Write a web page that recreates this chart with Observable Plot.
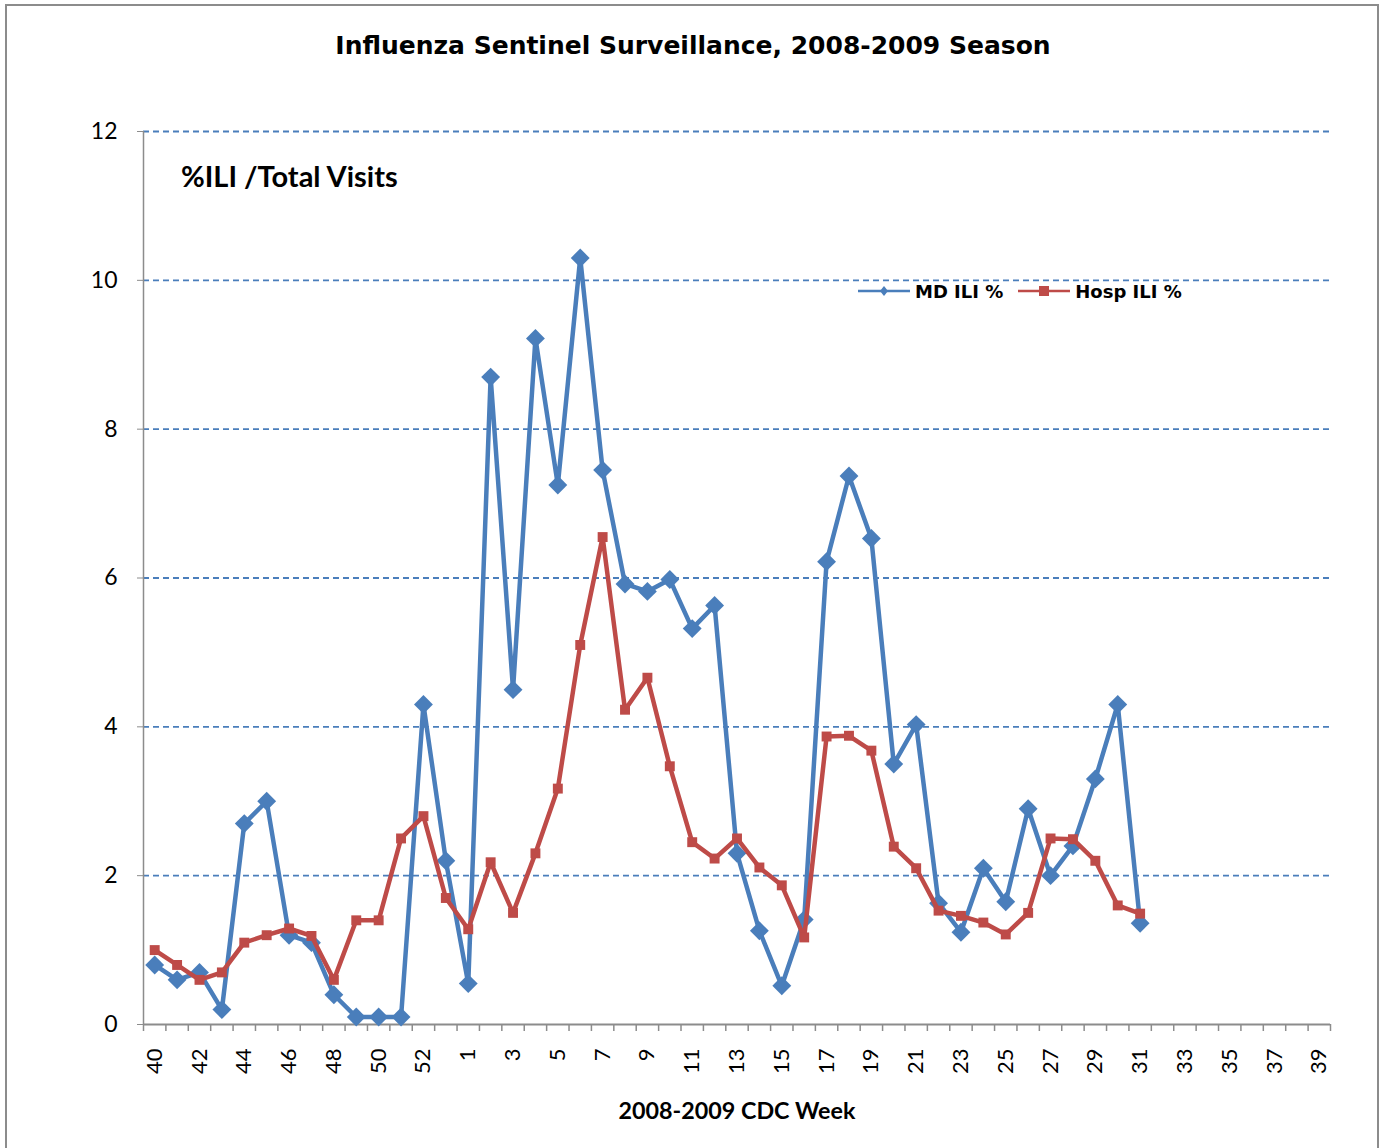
<!DOCTYPE html>
<html>
<head>
<meta charset="utf-8">
<script src="https://cdn.jsdelivr.net/npm/d3@7"></script>
<script src="https://cdn.jsdelivr.net/npm/@observablehq/plot@0.6"></script>
<style>
  body { margin: 0; background: #fff; }
  #wrap { position: relative; width: 1380px; height: 1148px; overflow: hidden; background: #fff; }
  #frame { position: absolute; left: 5px; top: 4px; width: 1370px; height: 1200px; border: 2.5px solid #8c8c8c; }
  #title { position: absolute; top: 31px; left: 0; width: 1386px; text-align: center; font: bold 25px "DejaVu Sans", sans-serif; color: #000; }
  #chart { position: absolute; top: 100px; left: 0; }
  #ytitle { position: absolute; left: 181px; top: 158px; font: bold 29px Lato, sans-serif; color: #000; }
  #xtitle { position: absolute; left: 0; width: 1474px; text-align: center; top: 1096px; font: bold 23.3px Lato, sans-serif; color: #000; }
  #legend { position: absolute; left: 858px; top: 279px; font: bold 18px "DejaVu Sans", sans-serif; color: #000; display: flex; align-items: center; }
  #legend .item { display: flex; align-items: center; margin-right: 15px; }
  #legend svg { margin-right: 5px; }
</style>
</head>
<body>
<div id="wrap">
  <div id="frame"></div>
  <div id="title">Influenza Sentinel Surveillance, 2008-2009 Season</div>
  <div id="chart"></div>
  <div id="ytitle">%ILI /Total Visits</div>
  <div id="xtitle">2008-2009 CDC Week</div>
  <div id="legend"></div>
</div>
<script>
// CDC weeks of the 2008-2009 season (2008 had 53 weeks)
const weeks = ["40","41","42","43","44","45","46","47","48","49","50","51","52","53",
  "1","2","3","4","5","6","7","8","9","10","11","12","13","14","15","16","17","18","19","20",
  "21","22","23","24","25","26","27","28","29","30","31","32","33","34","35","36","37","38","39"];

// MD ILI % (weeks 40 .. 31)
const mdILI = [0.8, 0.6, 0.7, 0.2, 2.7, 3.0, 1.2, 1.1, 0.4, 0.1, 0.1, 0.1, 4.3, 2.2,
  0.55, 8.7, 4.5, 9.22, 7.25, 10.3, 7.45, 5.92, 5.82, 5.98, 5.32, 5.63, 2.3, 1.26, 0.52, 1.41,
  6.22, 7.37, 6.53, 3.5, 4.03, 1.63, 1.24, 2.1, 1.65, 2.9, 2.0, 2.4, 3.3, 4.3, 1.36];

// Hosp ILI % (weeks 40 .. 31)
const hospILI = [1.0, 0.8, 0.6, 0.7, 1.1, 1.2, 1.29, 1.19, 0.6, 1.4, 1.4, 2.5, 2.8, 1.7,
  1.28, 2.18, 1.5, 2.3, 3.17, 5.1, 6.55, 4.23, 4.66, 3.47, 2.45, 2.23, 2.5, 2.11, 1.87, 1.17,
  3.87, 3.88, 3.68, 2.39, 2.1, 1.53, 1.46, 1.37, 1.21, 1.5, 2.5, 2.49, 2.2, 1.6, 1.49];

const yTicks = [0, 2, 4, 6, 8, 10, 12];
const xTickLabels = weeks.filter((d, i) => i % 2 === 0);

const seriesNames = ["MD ILI %", "Hosp ILI %"];
const seriesColors = ["#4a7ebb", "#be4b48"];

const md = mdILI.map((v, i) => ({week: weeks[i], value: v}));
const hosp = hospILI.map((v, i) => ({week: weeks[i], value: v}));

const W = 1380, H = 1048;
const mL = 143, mR = 50, mT = 31, mB = 124;
const step = (W - mL - mR) / weeks.length;

const plot = Plot.plot({
  width: W,
  height: H,
  marginLeft: mL,
  marginRight: mR,
  marginTop: mT,
  marginBottom: mB,
  style: {fontFamily: "Lato, sans-serif", fontSize: "22px", color: "#000", background: "transparent"},
  x: {type: "point", domain: weeks, padding: 0.5, round: false},
  y: {domain: [0, 12]},
  marks: [
    Plot.gridY(yTicks.filter(d => d > 0), {stroke: "#4a7ebb", strokeOpacity: 1, strokeWidth: 1.9, strokeDasharray: "6,4"}),
    // category boundary tick marks
    Plot.ruleX(weeks, {x: d => d, dx: -step / 2, y1: 0, y2: 0, insetBottom: -7, stroke: "#8c8c8c", strokeWidth: 1.5}),
    Plot.ruleX([weeks[weeks.length - 1]], {x: d => d, dx: step / 2, y1: 0, y2: 0, insetBottom: -7, stroke: "#8c8c8c", strokeWidth: 1.5}),
    // y axis line
    Plot.ruleX([weeks[0]], {x: d => d, dx: -step / 2, y1: 0, y2: 12, stroke: "#8c8c8c", strokeWidth: 1.5}),
    Plot.axisY({ticks: yTicks, tickSize: 6, tickPadding: 20, stroke: "#8c8c8c", fill: "#000", fontSize: 23, label: null}),
    Plot.axisX({ticks: xTickLabels, tickSize: 0, tickPadding: 24, tickRotate: -90, fontSize: 22, label: null, fill: "#000"}),
    // x axis line
    Plot.ruleY([0], {stroke: "#8c8c8c", strokeWidth: 2}),
    Plot.line(md, {x: "week", y: "value", stroke: seriesColors[0], strokeWidth: 4.5}),
    Plot.dot(md, {x: "week", y: "value", symbol: "diamond2", r: 8.5, fill: seriesColors[0], stroke: null}),
    Plot.line(hosp, {x: "week", y: "value", stroke: seriesColors[1], strokeWidth: 4.5}),
    Plot.dot(hosp, {x: "week", y: "value", symbol: "square", r: 5.6, fill: seriesColors[1], stroke: null})
  ]
});
document.getElementById("chart").appendChild(plot);

// legend
const legend = document.getElementById("legend");
seriesNames.forEach((name, i) => {
  const item = document.createElement("div");
  item.className = "item";
  const sym = i === 0
    ? `<path d="M26,7 L30,12 L26,17 L22,12 Z" fill="${seriesColors[i]}"/>`
    : `<rect x="21" y="7" width="10" height="10" fill="${seriesColors[i]}"/>`;
  item.innerHTML = `<svg width="52" height="24"><line x1="0" x2="52" y1="12" y2="12" stroke="${seriesColors[i]}" stroke-width="2.5"/>${sym}</svg><span>${name}</span>`;
  legend.appendChild(item);
});
</script>
</body>
</html>
